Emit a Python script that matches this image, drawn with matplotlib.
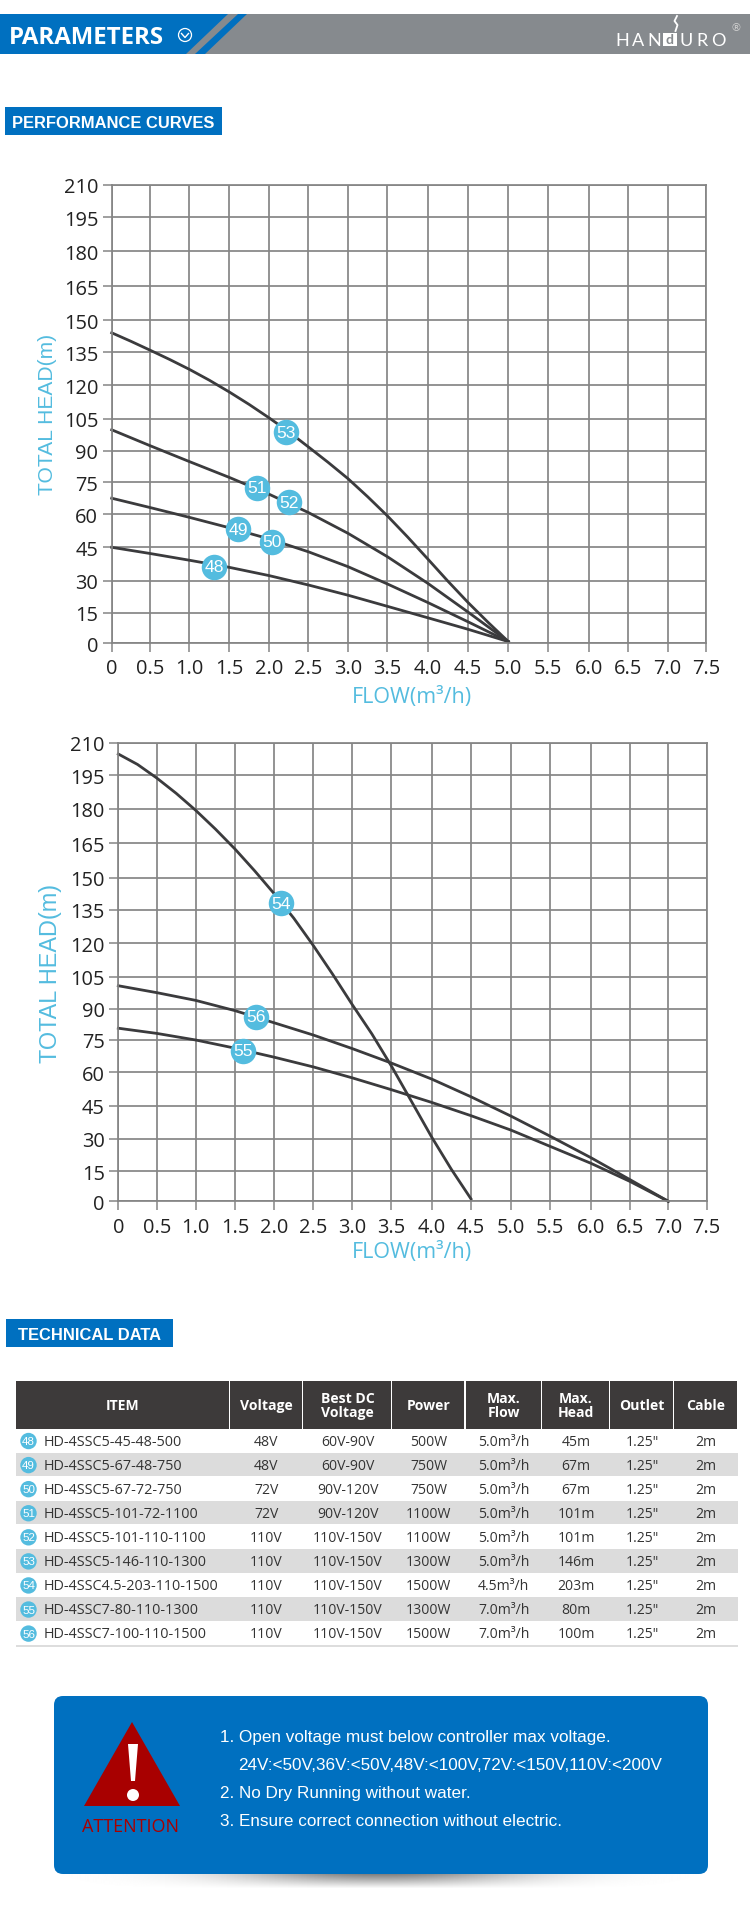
import numpy as np
import matplotlib
matplotlib.use("Agg")
import matplotlib.pyplot as plt
from matplotlib.patches import Rectangle, Polygon, Circle, FancyBboxPatch

W, H = 750, 1933

# curve data
flow_a = [0, 0.5, 1, 1.5, 2, 2.5, 3, 3.5, 4, 4.5, 5]
head_48 = [45, 42.2, 39.2, 36, 32.3, 28, 23.2, 18, 12.5, 6.8, 0.7]
head_50 = [67.4, 63, 58.5, 53.8, 48.8, 43, 36.3, 28.5, 19.8, 10.5, 0.7]
head_52 = [99.8, 92.3, 84.8, 77.2, 69.3, 60.7, 51.3, 40.8, 28.8, 15.3, 0.7]
flow_53 = [0, 0.25, 0.5, 0.75, 1, 1.25, 1.5, 1.75, 2, 2.25, 2.5, 2.75, 3, 3.25, 3.5, 3.75, 4, 4.25, 4.5, 4.75, 5]
head_53 = [144, 140, 135.8, 131.6, 127.2, 122.3, 117, 111.4, 105.4, 98.9, 91.8, 84.4, 76.6, 68.1, 59.2,
           49.7, 39.8, 29.8, 19.8, 10.2, 0.7]

flow_54 = [0, 0.25, 0.5, 0.75, 1, 1.25, 1.5, 1.75, 2, 2.25, 2.5, 2.75, 3, 3.25, 3.5, 3.75, 4, 4.25, 4.5]
head_54 = [204.8, 200, 193.8, 186.9, 179.3, 171.2, 162.5, 153, 142.5, 131.3, 119, 106, 92, 78, 63, 47,
           31, 16, 1.2]
flow_b = [0, 0.5, 1, 1.5, 2, 2.5, 3, 3.5, 4, 4.5, 5, 5.5, 6, 6.5, 7]
head_56 = [100.8, 97.6, 94, 89.2, 83.3, 77.4, 71, 64.3, 57, 49, 40.3, 31.3, 21.3, 10.9, 0]
head_55 = [80.7, 78.2, 75, 71.2, 67, 62.5, 57.5, 52.2, 46.5, 40.5, 34, 26.6, 18.7, 10, 0]

badges_a = ["48", "49", "50", "51", "52", "53"]
badges_a_x = [1.31, 1.61, 2.04, 1.845, 2.25, 2.22]
badges_a_y = [36.3, 53.2, 47.5, 72.2, 65.6, 98.6]
badges_b = ["54", "56", "55"]
badges_b_x = [2.09, 1.77, 1.6]
badges_b_y = [138.2, 86.2, 70]

flow_ticks = [0, 0.5, 1, 1.5, 2, 2.5, 3, 3.5, 4, 4.5, 5, 5.5, 6, 6.5, 7, 7.5]
flow_labels = ["0", "0.5", "1.0", "1.5", "2.0", "2.5", "3.0", "3.5", "4.0", "4.5",
               "5.0", "5.5", "6.0", "6.5", "7.0", "7.5"]
head_ticks = list(range(0, 211, 15))

# table
col_names = ["ITEM", "Voltage", "Best DC\nVoltage", "Power", "Max.\nFlow", "Max.\nHead", "Outlet", "Cable"]
row_ids = ["48", "49", "50", "51", "52", "53", "54", "55", "56"]
items = ["HD-4SSC5-45-48-500", "HD-4SSC5-67-48-750", "HD-4SSC5-67-72-750", "HD-4SSC5-101-72-1100",
         "HD-4SSC5-101-110-1100", "HD-4SSC5-146-110-1300", "HD-4SSC4.5-203-110-1500",
         "HD-4SSC7-80-110-1300", "HD-4SSC7-100-110-1500"]
voltage = ["48V", "48V", "72V", "72V", "110V", "110V", "110V", "110V", "110V"]
best_dc = ["60V-90V", "60V-90V", "90V-120V", "90V-120V", "110V-150V", "110V-150V", "110V-150V", "110V-150V", "110V-150V"]
power = ["500W", "750W", "750W", "1100W", "1100W", "1300W", "1500W", "1300W", "1500W"]
max_flow = ["5.0m³/h", "5.0m³/h", "5.0m³/h", "5.0m³/h", "5.0m³/h", "5.0m³/h", "4.5m³/h", "7.0m³/h", "7.0m³/h"]
max_head = ["45m", "67m", "67m", "101m", "101m", "146m", "203m", "80m", "100m"]
outlet = ['1.25"'] * 9
cable = ["2m"] * 9

notes = ["1. Open voltage must below controller max voltage.",
         "24V:<50V,36V:<50V,48V:<100V,72V:<150V,110V:<200V",
         "2. No Dry Running without water.",
         "3. Ensure correct connection without electric."]

BLUE = "#0070c0"
GREY = "#868a8e"
CYAN = "#54bcdf"
DARK = "#3b3b3d"
GRID = "#858585"
NUM = "Open Sans"
ARIAL = "Liberation Sans"

# the grid in the picture is hand drawn and a little uneven, pixel rows/columns of its lines
a_col_px = [111.7, 150.3, 189.3, 229.3, 269, 308.3, 348, 387.3, 427.7, 468, 508.3, 547.8, 589, 628, 667.5, 706]
a_row_px = [644, 613.7, 581.7, 548.3, 515, 483, 451.7, 419.7, 386.3, 353, 321, 287, 252, 218.3, 185.7]
b_col_px = [118.3, 156.7, 195.7, 235, 274.3, 313.3, 352.3, 391.3, 431.5, 471, 511, 550, 591, 629.7, 668.3, 706.7]
b_row_px = [1202.3, 1172.3, 1140, 1106.7, 1073.3, 1041, 1010, 977.7, 944.3, 911, 878.7, 844.3, 809.7, 776.3, 743.7]


def px(v):
    return v * 0.72


fig = plt.figure(figsize=(W / 100, H / 100), dpi=100, facecolor="white")
page = fig.add_axes([0, 0, 1, 1])
page.set_xlim(0, W)
page.set_ylim(H, 0)
page.axis("off")

# top banner
page.add_patch(Rectangle((0, 15), W, 40, fc=GREY, ec="none"))
page.add_patch(Polygon([(0, 15), (228, 15), (186, 55), (0, 55)], fc=BLUE, ec="none"))
page.add_patch(Polygon([(238, 15), (247, 15), (205, 55), (195, 55)], fc=BLUE, ec="none"))
page.text(9, 37.5, "PARAMETERS", color="white", fontsize=px(24), fontweight="bold", family="Open Sans", va="center")
page.add_patch(Circle((185, 36), 6.5, fc="none", ec="white", lw=0.9))
page.plot([181.5, 185, 188.5], [34.5, 38.5, 34.5], color="white", lw=1)
for i, ch in enumerate("HAN URO"):
    page.text(622.5 + i * 15.9, 40.5, ch, color="white", fontsize=px(18), family="Lato", ha="center", va="center")
page.add_patch(Rectangle((663, 34), 14, 12.7, fc="white", ec="none"))
page.text(670, 40, "d", color=GREY, fontsize=px(14), family="Lato", fontweight="bold", ha="center", va="center")
page.plot([677, 674.5, 677.5, 675.5], [17, 22, 26, 32], color="white", lw=1.3)
page.text(736, 28, "®", color="#d0d0d0", fontsize=px(11), ha="center", va="center")

# section labels
for x0, y0, x1, y1, label in [(5, 108, 222, 136, "PERFORMANCE CURVES"), (6, 1320, 173, 1348, "TECHNICAL DATA")]:
    page.add_patch(Rectangle((x0, y0), x1 - x0, y1 - y0, fc=BLUE, ec="none"))
    page.text((x0 + x1) / 2, (y0 + y1) / 2 + 1.5, label, color="white", fontsize=px(16.5), fontweight="bold",
              family=ARIAL, ha="center", va="center")


def chart(col_px, row_px, curves, names, bx, by):
    left, right, bottom, top = col_px[0], col_px[-1], row_px[0], row_px[-1]
    ax = fig.add_axes([left / W, 1 - bottom / H, (right - left) / W, (bottom - top) / H])
    ax.patch.set_alpha(0)
    ax.set_xscale("function", functions=(lambda v: np.interp(v, flow_ticks, col_px),
                                         lambda p: np.interp(p, col_px, flow_ticks)))
    neg = [-p for p in row_px]
    ax.set_yscale("function", functions=(lambda v: np.interp(v, head_ticks, neg),
                                         lambda p: np.interp(p, neg, head_ticks)))
    ax.set_xlim(0, 7.5)
    ax.set_ylim(0, 210)
    ax.set_xticks(flow_ticks, flow_labels)
    ax.set_yticks(head_ticks, [str(t) for t in head_ticks])
    ax.grid(True, color=GRID, lw=1.25)
    ax.set_axisbelow(True)
    ax.tick_params(length=6.5, width=1.1, color=GRID, labelsize=px(20), labelcolor="#222222")
    ax.tick_params(axis="x", pad=4.5)
    ax.tick_params(axis="y", pad=3.2)
    for lab in ax.get_xticklabels() + ax.get_yticklabels():
        lab.set_family(NUM)
    for s in ax.spines.values():
        s.set_color(GRID)
        s.set_linewidth(1.25)
    for fx, hd in curves:
        ax.plot(fx, hd, color=DARK, lw=2.0, solid_joinstyle="round", clip_on=False)
    ax.scatter(bx, by, s=px(25.5) ** 2, color=CYAN, zorder=5, linewidths=0)
    for name, x, y in zip(names, bx, by):
        ax.text(x, y, name, color="white", fontsize=px(17.5), family=ARIAL, ha="center", va="center", zorder=6)
    return ax


chart(a_col_px, a_row_px, [(flow_a, head_48), (flow_a, head_50), (flow_a, head_52), (flow_53, head_53)],
      badges_a, badges_a_x, badges_a_y)
chart(b_col_px, b_row_px, [(flow_54, head_54), (flow_b, head_56), (flow_b, head_55)],
      badges_b, badges_b_x, badges_b_y)

page.text(48, 414, "TOTAL HEAD(m)", color=CYAN, fontsize=px(21), family=ARIAL, rotation=90, ha="center", va="center")
page.text(51, 973, "TOTAL HEAD(m)", color=CYAN, fontsize=px(23.5), family=ARIAL, rotation=90, ha="center", va="center")
page.text(412, 698, "FLOW(m³/h)", color=CYAN, fontsize=px(21.5), family=NUM, ha="center", va="center")
page.text(412, 1253, "FLOW(m³/h)", color=CYAN, fontsize=px(21.5), family=NUM, ha="center", va="center")

# table
edges = [15.7, 230, 303, 392, 465.5, 542, 610, 674, 738]
head_top, head_bot = 1382, 1430
row_h = 24.07
columns = [voltage, best_dc, power, max_flow, max_head, outlet, cable]
for i, name in enumerate(col_names):
    page.add_patch(Rectangle((edges[i], head_top), edges[i + 1] - edges[i] - 1.2, head_bot - head_top, fc="#3d3a3a", ec="none"))
    page.text((edges[i] + edges[i + 1]) / 2, (head_top + head_bot) / 2, name, color="white", fontsize=px(14),
              fontweight="bold", family=NUM, ha="center", va="center", linespacing=1.0)
for r, item in enumerate(items):
    y0 = head_bot + r * row_h
    yc = y0 + row_h / 2
    if r % 2 == 1:
        page.add_patch(Rectangle((15.7, y0), 722.3, row_h - 0.8, fc="#dcdcdc", ec="none"))
    page.add_patch(Circle((28.5, yc), 8.2, fc=CYAN, ec="none"))
    page.text(28.5, yc, row_ids[r], color="white", fontsize=px(11.5), family=ARIAL, ha="center", va="center")
    page.text(44, yc, item, color="#333333", fontsize=px(14.4), family=NUM, ha="left", va="center")
    for c, col in enumerate(columns):
        page.text((edges[c + 1] + edges[c + 2]) / 2, yc, col[r], color="#333333", fontsize=px(14), family=NUM,
                  ha="center", va="center")
page.add_patch(Rectangle((15.7, head_bot + 9 * row_h - 0.5), 722.3, 1.5, fc="#dddddd", ec="none"))

# attention box, soft shadow below it
shadow = np.exp(-np.linspace(-2.2, 2.2, 400) ** 2)[None, :] * np.linspace(0.75, 0, 16)[:, None]
page.imshow(1 - shadow * 0.7, extent=(60, 700, 1890, 1874), cmap="gray", vmin=0, vmax=1, aspect="auto", zorder=1)
page.set_xlim(0, W)
page.set_ylim(H, 0)
page.add_patch(FancyBboxPatch((62, 1705), 638, 162, boxstyle="round,pad=8,rounding_size=9", fc=BLUE, ec="none", zorder=2))
page.add_patch(Polygon([(132, 1723), (180, 1807), (84, 1807)], fc="#a80000", ec="none", zorder=3))
page.add_patch(Polygon([(128, 1745), (138, 1745), (135, 1782), (131, 1782)], fc="white", ec="none", zorder=4))
page.add_patch(Circle((133, 1796), 6, fc="white", ec="none", zorder=4))
page.text(131, 1827, "ATTENTION", color="#a80000", fontsize=px(18), family=NUM, ha="center", va="center", zorder=4)
for (tx, ty), line in zip([(220, 1738), (238, 1766), (220, 1794), (220, 1822)], notes):
    page.text(tx, ty, line, color="white", fontsize=px(17.1), family=ARIAL, ha="left", va="center", zorder=4)

fig.savefig("out.png", dpi=100)
